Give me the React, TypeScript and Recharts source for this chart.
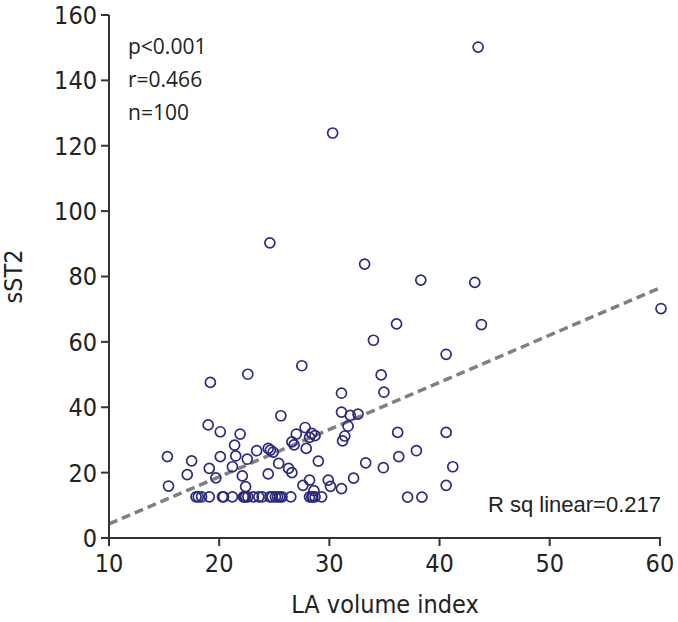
import { ScatterChart, Scatter, XAxis, YAxis, ReferenceLine, Customized } from "recharts";

// LA volume index (x) and sST2 (y)
const laVolumeIndex = [
  43.5, 30.3, 24.6, 33.2, 38.3, 43.2, 60.1, 36.1, 43.8, 34.0,
  40.6, 27.5, 22.6, 34.7, 19.2, 34.95, 31.1, 31.1, 32.6, 31.9,
  25.6, 19.0, 31.7, 27.8, 20.1, 36.2, 40.6, 28.4, 21.9, 27.0,
  28.7, 31.4, 28.2, 31.2, 26.6, 26.8, 21.4, 24.45, 27.9, 24.65,
  37.9, 23.4, 24.9, 21.5, 20.1, 15.3, 36.3, 22.55, 17.5, 29.0,
  33.3, 25.4, 21.2, 41.2, 34.9, 26.3, 19.1, 26.6, 24.45, 17.1,
  22.1, 19.7, 32.2, 28.2, 29.9, 40.6, 27.6, 15.4, 30.1, 22.4,
  31.1, 28.6, 17.9, 18.4, 19.1, 20.3, 20.4, 21.2, 22.2, 22.4,
  22.6, 23.1, 23.6, 23.9, 24.6, 25.1, 25.5, 25.7, 26.5, 28.2,
  28.5, 28.7, 29.3, 37.1, 38.4, 18.1, 22.3, 24.8, 25.3, 28.4,
];
const sST2 = [
  150.2, 123.9, 90.3, 83.8, 78.9, 78.2, 70.2, 65.5, 65.3, 60.5,
  56.2, 52.7, 50.1, 49.9, 47.6, 44.6, 44.3, 38.5, 37.9, 37.5,
  37.4, 34.6, 34.2, 33.8, 32.5, 32.3, 32.3, 32.0, 31.8, 31.8,
  31.3, 31.2, 30.8, 29.7, 29.4, 28.5, 28.4, 27.4, 27.4, 26.9,
  26.7, 26.7, 26.3, 25.1, 24.9, 24.9, 24.9, 24.1, 23.6, 23.5,
  23.0, 22.8, 21.8, 21.8, 21.5, 21.3, 21.3, 20.0, 19.6, 19.4,
  19.0, 18.4, 18.3, 17.7, 17.7, 16.1, 16.1, 15.9, 15.8, 15.7,
  15.1, 14.5, 12.6, 12.6, 12.6, 12.6, 12.6, 12.6, 12.6, 12.6,
  12.6, 12.6, 12.6, 12.6, 12.6, 12.6, 12.6, 12.6, 12.6, 12.6,
  12.6, 12.6, 12.6, 12.5, 12.5, 12.6, 12.6, 12.6, 12.6, 12.6,
];

// fit line end points
const fitLine = [
  { x: 10, y: 4.3 },
  { x: 60, y: 76.5 },
];

const xTicks = [10, 20, 30, 40, 50, 60];
const yTicks = [0, 20, 40, 60, 80, 100, 120, 140, 160];
const stats = ["p<0.001", "r=0.466", "n=100"];
const rSquared = "R sq linear=0.217";

const AXIS = "#333";
const DOT = "#2b2a80";
const TICK_FONT = "'Liberation Sans Narrow', 'DejaVu Sans Condensed', Arial, sans-serif";

const points = laVolumeIndex.map((x, i) => ({ x, y: sST2[i] }));

const RingDot = (props: any) => {
  const { cx, cy } = props;
  if (cx == null || cy == null) return null;
  return <circle cx={cx} cy={cy} r={5} fill="none" stroke={DOT} strokeWidth={1.7} />;
};

const Annotations = (props: any) => {
  const off = props.offset || { left: 109, top: 15, width: 552, height: 523 };
  return (
    <g>
      {stats.map((s, i) => (
        <text
          key={s}
          x={off.left + 19}
          y={off.top + 39 + i * 33}
          fontFamily="'Open Sans', sans-serif"
          fontSize={21}
          fill="#222"
        >
          {s}
        </text>
      ))}
      <text
        x={off.left + off.width}
        y={off.top + off.height - 26}
        textAnchor="end"
        fontFamily="'Liberation Sans', Arial, sans-serif"
        fontSize={22}
        fill="#222"
      >
        {rSquared}
      </text>
      <text
        transform={`translate(${off.left - 94}, ${off.top + off.height / 2}) rotate(-90)`}
        textAnchor="middle"
        dominantBaseline="middle"
        fontFamily={TICK_FONT}
        fontSize={25}
        fill="#222"
      >
        sST2
      </text>
    </g>
  );
};

export default function App() {
  return (
    <div style={{ position: "absolute", left: 0, top: 0, background: "#fff" }}>
      <ScatterChart width={678} height={622} margin={{ top: 15, right: 17, bottom: 0, left: 0 }}>
        <XAxis
          type="number"
          dataKey="x"
          domain={[10, 60]}
          ticks={xTicks}
          height={84}
          stroke={AXIS}
          strokeWidth={2}
          tickSize={8}
          tick={{ fill: "#222", fontSize: 25, fontFamily: TICK_FONT }}
          tickMargin={8}
          label={{
            value: "LA volume index",
            position: "insideBottom",
            offset: 9,
            fill: "#222",
            fontSize: 25,
            fontFamily: TICK_FONT,
          }}
        />
        <YAxis
          type="number"
          dataKey="y"
          domain={[0, 160]}
          ticks={yTicks}
          width={109}
          stroke={AXIS}
          strokeWidth={2}
          tickSize={8}
          tickMargin={4}
          tick={{ fill: "#222", fontSize: 25, fontFamily: TICK_FONT }}
        />
        <ReferenceLine
          segment={fitLine}
          stroke="#808080"
          strokeWidth={3.5}
          strokeDasharray="9 5"
          ifOverflow="visible"
        />
        <Scatter data={points} shape={RingDot} isAnimationActive={false} />
        <Customized component={Annotations} />
      </ScatterChart>
    </div>
  );
}
